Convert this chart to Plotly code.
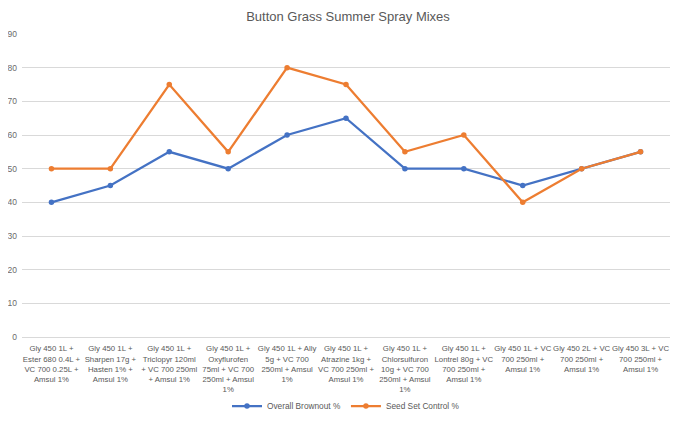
import plotly.graph_objects as go

# treatment mixes (wrapped as in the original chart)
mixes = [
    'Gly 450 1L +<br>Ester 680 0.4L +<br>VC 700 0.25L +<br>Amsul 1%',
    'Gly 450 1L +<br>Sharpen 17g +<br>Hasten 1% +<br>Amsul 1%',
    'Gly 450 1L +<br>Triclopyr 120ml<br>+ VC 700 250ml<br>+ Amsul 1%',
    'Gly 450 1L +<br>Oxyflurofen<br>75ml + VC 700<br>250ml + Amsul<br>1%',
    'Gly 450 1L + Ally<br>5g + VC 700<br>250ml + Amsul<br>1%',
    'Gly 450 1L +<br>Atrazine 1kg +<br>VC 700 250ml +<br>Amsul 1%',
    'Gly 450 1L +<br>Chlorsulfuron<br>10g + VC 700<br>250ml + Amsul<br>1%',
    'Gly 450 1L +<br>Lontrel 80g + VC<br>700 250ml +<br>Amsul 1%',
    'Gly 450 1L + VC<br>700 250ml +<br>Amsul 1%',
    'Gly 450 2L + VC<br>700 250ml +<br>Amsul 1%',
    'Gly 450 3L + VC<br>700 250ml +<br>Amsul 1%',
]
brownout = [40, 45, 55, 50, 60, 65, 50, 50, 45, 50, 55]
seed_set = [50, 50, 75, 55, 80, 75, 55, 60, 40, 50, 55]

fig = go.Figure()
fig.add_trace(go.Scatter(
    x=mixes, y=brownout, mode='lines+markers', name='Overall Brownout %',
    line=dict(color='#4472C4', width=2.25), marker=dict(size=5.5, color='#4472C4'),
))
fig.add_trace(go.Scatter(
    x=mixes, y=seed_set, mode='lines+markers', name='Seed Set Control %',
    line=dict(color='#ED7D31', width=2.25), marker=dict(size=5.5, color='#ED7D31'),
))

fig.update_layout(
    width=680, height=425,
    margin=dict(l=14, r=18, t=26, b=90),
    paper_bgcolor='white', plot_bgcolor='white',
    font=dict(family='Liberation Sans, Arial, sans-serif', size=8, color='#595959'),
    title=dict(text='Button Grass Summer Spray Mixes', x=0.5, xanchor='center',
               y=0.981, yanchor='middle', font=dict(size=13, color='#595959')),
    legend=dict(orientation='h', x=0.5, xanchor='center', y=-0.228, yanchor='middle',
                font=dict(size=8.3, color='#595959')),
    showlegend=True,
)
fig.update_xaxes(showgrid=False, showline=True, linecolor='#D9D9D9', linewidth=1,
                 range=[-0.5, len(mixes) - 0.5],
                 tickangle=0, ticks='', automargin=False, ticklabelstandoff=4,
                 tickfont=dict(size=7.8))
fig.update_yaxes(range=[0, 90], dtick=10, showgrid=True, gridcolor='#D9D9D9',
                 zeroline=False, showline=False, ticks='', ticklabelstandoff=4,
                 automargin=False, tickfont=dict(size=8.5, color='#6b6b6b'))

fig.write_html("out.html")
